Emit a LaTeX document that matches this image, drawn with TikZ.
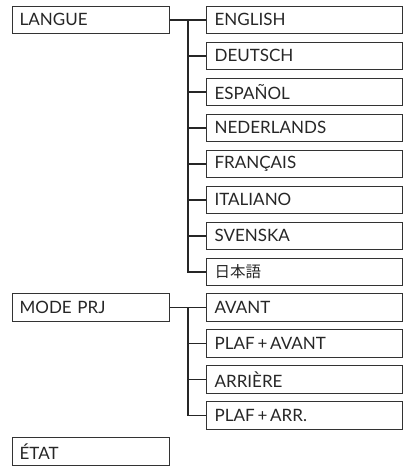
\documentclass[tikz,border=0pt]{standalone}
\usepackage{fontspec}
\setmainfont{Lato}
\newfontfamily\jpfont{Noto Sans CJK JP}
\begin{document}
\begin{tikzpicture}[x=1pt,y=-1pt,
  menubox/.style={draw=black!80, line width=1.2pt, anchor=north west, minimum height=27.5pt,
    inner ysep=0pt, align=left, font=\fontsize{17}{19}\selectfont, text=black!85},
  leftbox/.style={menubox, text width=143pt, inner xsep=7pt},
  rightbox/.style={menubox, text width=180pt, inner xsep=8pt},
  conn/.style={draw=black!85, line width=1.5pt}]
\useasboundingbox (0,0) rectangle (404,471);
\node[leftbox] (langue) at (12,5.5) {LANGUE};
\node[rightbox] (en) at (206,5.5) {ENGLISH};
\node[rightbox] (de) at (206,41.5) {DEUTSCH};
\node[rightbox] (es) at (206,77.5) {ESPAÑOL};
\node[rightbox] (nl) at (206,113.5) {NEDERLANDS};
\node[rightbox] (fr) at (206,149.5) {FRANÇAIS};
\node[rightbox] (it) at (206,185.5) {ITALIANO};
\node[rightbox] (sv) at (206,221.5) {SVENSKA};
\node[rightbox] (ja) at (206,257.5) {{\jpfont\fontsize{15.5}{17}\selectfont 日本語}};
\node[leftbox] (mode) at (12,293) {MODE PRJ};
\node[rightbox] (av) at (206,293) {AVANT};
\node[rightbox] (pa) at (206,329) {PLAF\,+\,AVANT};
\node[rightbox] (ar) at (206,365) {ARRIÈRE};
\node[rightbox] (pr) at (206,401) {PLAF\,+\,ARR.};
\node[leftbox] (etat) at (12,437) {ÉTAT};
\coordinate (bus1) at (188,0);
\coordinate (bus2) at (188,0);
\draw[conn] (langue.east) -- (en.west);
\draw[conn] (bus1 |- en.west) |- (ja.west);
\foreach \n in {de,es,nl,fr,it,sv} \draw[conn] (bus1 |- \n.west) -- (\n.west);
\draw[conn] (mode.east) -- (av.west);
\draw[conn] (bus2 |- av.west) |- (pr.west);
\foreach \n in {pa,ar} \draw[conn] (bus2 |- \n.west) -- (\n.west);
\end{tikzpicture}
\end{document}
